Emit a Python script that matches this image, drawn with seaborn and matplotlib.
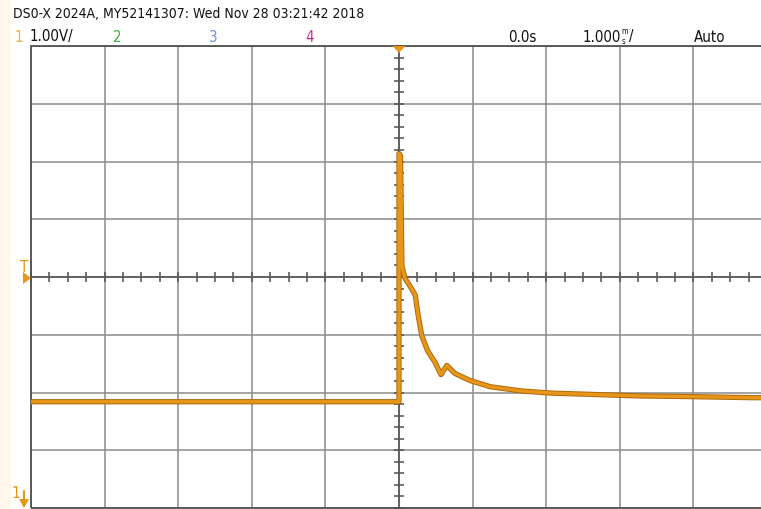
import matplotlib
matplotlib.use('Agg')
import matplotlib.pyplot as plt
import seaborn as sns
from matplotlib.ticker import MultipleLocator
from matplotlib.patches import Rectangle, Polygon

# time in ms, voltage in V relative to screen centre (1 V/div)
t_ms = [-5.0, -2.0, 0.0, 0.0, 0.02, 0.04, 0.08, 0.15, 0.22, 0.26, 0.31, 0.39,
        0.49, 0.57, 0.65, 0.76, 0.96, 1.24, 1.64, 2.05, 2.55, 3.27, 3.91, 4.81, 5.0]
volts = [-2.16, -2.16, -2.16, 2.14, 2.10, 0.19, -0.02, -0.16, -0.31, -0.66, -1.02, -1.28,
         -1.48, -1.69, -1.53, -1.67, -1.79, -1.90, -1.97, -2.01, -2.03, -2.06, -2.07, -2.09, -2.09]

header = "DS0-X 2024A, MY52141307: Wed Nov 28 03:21:42 2018"
ch_labels = ["1", "2", "3", "4"]
ch_colors = ["#F0B030", "#3FAE3F", "#6F8FD0", "#C03090"]

trace_color = "#E8961A"
grid_color = "#8C8C8C"
axis_color = "#505050"

sns.set_style("white")
plt.rcParams['font.family'] = ['DejaVu Sans']
plt.rcParams['font.stretch'] = 'condensed'

fig = plt.figure(figsize=(7.61, 5.10), dpi=100)
W, H = 761, 510
# screen: x from 31 px, 73.6 px/div, y 47..509 px
ax = fig.add_axes([31 / W, 1 - 509 / H, 736 / W, 462 / H])
ax.set_xlim(-5, 5)
ax.set_ylim(-4, 4)

# cream strip on the left
fig.patches.append(Rectangle((0, 0), 11 / W, 1, transform=fig.transFigure,
                             facecolor="#FFF8EA", edgecolor="none", zorder=0))

ax.xaxis.set_major_locator(MultipleLocator(1))
ax.yaxis.set_major_locator(MultipleLocator(1))
ax.xaxis.set_minor_locator(MultipleLocator(0.25))
ax.yaxis.set_minor_locator(MultipleLocator(0.2))
ax.grid(True, which='major', color=grid_color, linewidth=1.1)
ax.set_xticklabels([])
ax.set_yticklabels([])

for side in ['top', 'right']:
    ax.spines[side].set_visible(False)
ax.spines['left'].set_position(('data', 0))
ax.spines['bottom'].set_position(('data', 0))
for side in ['left', 'bottom']:
    ax.spines[side].set_color(axis_color)
    ax.spines[side].set_linewidth(1.1)
ax.tick_params(which='both', direction='inout', length=7, width=1.1,
               color=axis_color, bottom=True, left=True,
               labelleft=False, labelbottom=False)

# screen border
ax.add_patch(Rectangle((0, 0), 1, 1, transform=ax.transAxes, fill=False,
                       edgecolor=axis_color, linewidth=1.3, clip_on=False, zorder=3))

# trace
sns.lineplot(x=t_ms, y=volts, sort=False, estimator=None, ax=ax,
             color="#B0690C", linewidth=3.8, zorder=4)
sns.lineplot(x=t_ms, y=volts, sort=False, estimator=None, ax=ax,
             color=trace_color, linewidth=2.4, zorder=5)
ax.set_xlabel("")
ax.set_ylabel("")

# markers: trigger position (top), trigger level T, channel 1 ground
ax.add_patch(Polygon([(-0.09, 4.0), (0.09, 4.0), (0.0, 3.88)], closed=True,
                     facecolor=trace_color, edgecolor="none", clip_on=False, zorder=6))
fig.text(24 / W, 1 - 268 / H, "T", color=trace_color, fontsize=11, ha='center', va='center')
fig.patches.append(Polygon([(23 / W, 1 - 273 / H), (23 / W, 1 - 285 / H), (31 / W, 1 - 279 / H)],
                           closed=True, transform=fig.transFigure,
                           facecolor=trace_color, edgecolor="none", zorder=6))
fig.text(16 / W, 1 - 494 / H, "1", color=trace_color, fontsize=11, ha='center', va='center')
fig.patches.append(Polygon([(19 / W, 1 - 500 / H), (29 / W, 1 - 500 / H), (24 / W, 1 - 509 / H)],
                           closed=True, transform=fig.transFigure,
                           facecolor=trace_color, edgecolor="none", zorder=6))
fig.lines.append(plt.Line2D([24 / W, 24 / W], [1 - 500 / H, 1 - 492 / H],
                            transform=fig.transFigure, color=trace_color, linewidth=1.5))

# header texts
fs = 10.8
dark = "#111111"
fig.text(13 / W, 1 - 14 / H, header, fontsize=10, color=dark, va='center')
fig.text(15 / W, 1 - 37 / H, ch_labels[0], fontsize=fs, color=ch_colors[0], va='center')
fig.text(30 / W, 1 - 37 / H, "1.00V/", fontsize=fs, color=dark, va='center')
fig.text(113 / W, 1 - 37 / H, ch_labels[1], fontsize=fs, color=ch_colors[1], va='center')
fig.text(209 / W, 1 - 37 / H, ch_labels[2], fontsize=fs, color=ch_colors[2], va='center')
fig.text(305 / W, 1 - 37 / H, ch_labels[3], fontsize=fs, color=ch_colors[3], va='center')
fig.text(508 / W, 1 - 37 / H, "0.0s", fontsize=fs, color=dark, va='center')
fig.text(583 / W, 1 - 37 / H, "1.000", fontsize=fs, color=dark, va='center')
fig.text(621 / W, 1 - 32 / H, "m", fontsize=5.5, color=dark, va='center')
fig.text(622 / W, 1 - 42 / H, "s", fontsize=5.5, color=dark, va='center')
fig.text(629 / W, 1 - 37 / H, "/", fontsize=fs, color=dark, va='center')
fig.text(694 / W, 1 - 37 / H, "Auto", fontsize=fs, color=dark, va='center')

plt.savefig('out.png', dpi=100)
